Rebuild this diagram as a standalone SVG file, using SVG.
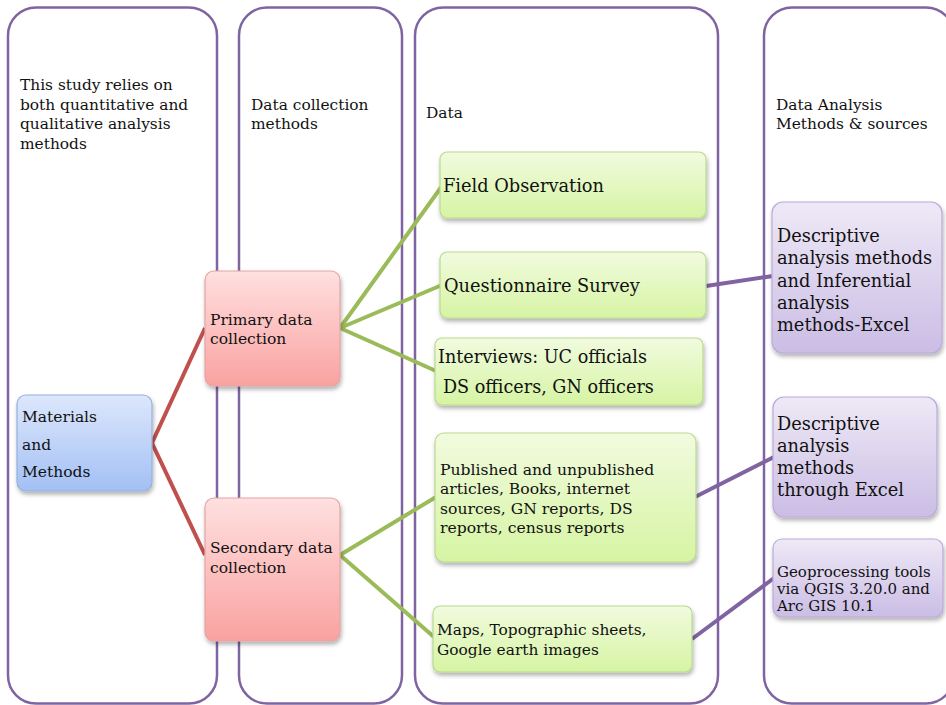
<svg xmlns="http://www.w3.org/2000/svg" width="946" height="705" viewBox="0 0 946 705">
<defs>
<linearGradient id="gBlue" x1="0" y1="0" x2="0" y2="1"><stop offset="0" stop-color="#DDE7FC"/><stop offset="1" stop-color="#A3C0F4"/></linearGradient>
<linearGradient id="gRed" x1="0" y1="0" x2="0" y2="1"><stop offset="0" stop-color="#FFE0E0"/><stop offset="1" stop-color="#F9A2A0"/></linearGradient>
<linearGradient id="gGreen" x1="0" y1="0" x2="0" y2="1"><stop offset="0" stop-color="#F1FBDF"/><stop offset="1" stop-color="#D6F4A3"/></linearGradient>
<linearGradient id="gPurple" x1="0" y1="0" x2="0" y2="1"><stop offset="0" stop-color="#EEE9F6"/><stop offset="1" stop-color="#CBBDE5"/></linearGradient>
<filter id="sh" x="-10%" y="-10%" width="125%" height="130%"><feDropShadow dx="1" dy="3" stdDeviation="2" flood-color="#000" flood-opacity="0.3"/></filter>
</defs>
<style>
.col{fill:none;stroke:#8064A2;stroke-width:2.5}
.t{font-family:"DejaVu Serif","Liberation Serif",serif;fill:#111}
.h{font-size:15.4px}
.blue{fill:url(#gBlue);stroke:#93B1DC;stroke-width:1.2}
.red{fill:url(#gRed);stroke:#E5A3A2;stroke-width:1.2}
.green{fill:url(#gGreen);stroke:#B9D98F;stroke-width:1.2}
.purple{fill:url(#gPurple);stroke:#BBAAD8;stroke-width:1.2}
.cr{stroke:#C0504D;stroke-width:4;fill:none}
.cg{stroke:#9BBB59;stroke-width:4;fill:none}
.cp{stroke:#8064A2;stroke-width:4;fill:none}
</style>
<rect width="946" height="705" fill="#fff"/>
<g id="columns">
<rect class="col" x="8" y="7.5" width="209" height="696" rx="28"/>
<rect class="col" x="239" y="7.5" width="163" height="696" rx="28"/>
<rect class="col" x="415" y="7.5" width="303" height="696" rx="28"/>
<rect class="col" x="764" y="7.5" width="190" height="696" rx="28"/>
</g>
<g id="headers">
<text class="t h" x="20" y="90">This study relies on</text>
<text class="t h" x="20" y="110">both quantitative and</text>
<text class="t h" x="20" y="129">qualitative analysis</text>
<text class="t h" x="20" y="149">methods</text>
<text class="t h" x="251" y="110">Data collection</text>
<text class="t h" x="251" y="129">methods</text>
<text class="t h" x="426" y="118">Data</text>
<text class="t h" x="776" y="110">Data Analysis</text>
<text class="t h" x="776" y="129">Methods &amp; sources</text>
</g>
<g id="connectors">
<polyline class="cr" points="205,328 152,443 205,555"/>
<line class="cg" x1="340" y1="328" x2="442" y2="186"/>
<line class="cg" x1="340" y1="328" x2="442" y2="285"/>
<line class="cg" x1="340" y1="328" x2="436" y2="371"/>
<line class="cg" x1="340" y1="555" x2="436" y2="497"/>
<line class="cg" x1="340" y1="555" x2="434" y2="637"/>
<line class="cp" x1="706" y1="286" x2="773" y2="276"/>
<line class="cp" x1="695" y1="497" x2="774" y2="457"/>
<line class="cp" x1="692" y1="639" x2="774" y2="578"/>
</g>
<g id="n-materials">
<rect class="blue" filter="url(#sh)" x="17" y="395" width="135" height="96" rx="9"/>
<text class="t" font-size="15.5" x="22" y="422">Materials</text>
<text class="t" font-size="15.5" x="22" y="450">and</text>
<text class="t" font-size="15.5" x="22" y="477">Methods</text>
</g>
<g id="n-primary">
<rect class="red" filter="url(#sh)" x="205" y="271" width="135" height="115" rx="9"/>
<text class="t" font-size="15.5" x="210" y="325">Primary data</text>
<text class="t" font-size="15.5" x="210" y="344">collection</text>
</g>
<g id="n-secondary">
<rect class="red" filter="url(#sh)" x="205" y="498" width="135" height="143" rx="9"/>
<text class="t" font-size="15.5" x="210" y="553">Secondary data</text>
<text class="t" font-size="15.5" x="210" y="573">collection</text>
</g>
<g id="n-field">
<rect class="green" filter="url(#sh)" x="440" y="152" width="266" height="66" rx="7"/>
<text class="t" font-size="17.8" x="443" y="192">Field Observation</text>
</g>
<g id="n-questionnaire">
<rect class="green" filter="url(#sh)" x="440" y="252" width="266" height="66" rx="7"/>
<text class="t" font-size="17.8" x="444" y="292">Questionnaire Survey</text>
</g>
<g id="n-interviews">
<rect class="green" filter="url(#sh)" x="435" y="338" width="268" height="67" rx="7"/>
<text class="t" font-size="17.6" x="438" y="363">Interviews: UC officials</text>
<text class="t" font-size="17.6" x="443" y="393">DS officers, GN officers</text>
</g>
<g id="n-published">
<rect class="green" filter="url(#sh)" x="435" y="433" width="261" height="129" rx="9"/>
<text class="t" font-size="15.6" x="440" y="475">Published and unpublished</text>
<text class="t" font-size="15.6" x="440" y="494">articles, Books, internet</text>
<text class="t" font-size="15.6" x="440" y="514">sources, GN reports, DS</text>
<text class="t" font-size="15.6" x="440" y="533">reports, census reports</text>
</g>
<g id="n-maps">
<rect class="green" filter="url(#sh)" x="433" y="606" width="259" height="66" rx="7"/>
<text class="t" font-size="15.4" x="437" y="635">Maps, Topographic sheets,</text>
<text class="t" font-size="15.4" x="437" y="655">Google earth images</text>
</g>
<g id="n-desc1">
<rect class="purple" filter="url(#sh)" x="772" y="202" width="170" height="151" rx="11"/>
<text class="t" font-size="17.8" x="777" y="242">Descriptive</text>
<text class="t" font-size="17.8" x="777" y="264">analysis methods</text>
<text class="t" font-size="17.8" x="777" y="287">and Inferential</text>
<text class="t" font-size="17.8" x="777" y="309">analysis</text>
<text class="t" font-size="17.8" x="777" y="331">methods-Excel</text>
</g>
<g id="n-desc2">
<rect class="purple" filter="url(#sh)" x="773" y="397" width="164" height="120" rx="11"/>
<text class="t" font-size="17.8" x="777" y="430">Descriptive</text>
<text class="t" font-size="17.8" x="777" y="452">analysis</text>
<text class="t" font-size="17.8" x="777" y="474">methods</text>
<text class="t" font-size="17.8" x="777" y="496">through Excel</text>
</g>
<g id="n-geo">
<rect class="purple" filter="url(#sh)" x="773" y="539" width="170" height="78" rx="9"/>
<text class="t" font-size="15" x="777" y="577">Geoprocessing tools</text>
<text class="t" font-size="15" x="777" y="594">via QGIS 3.20.0 and</text>
<text class="t" font-size="15" x="777" y="611">Arc GIS 10.1</text>
</g>
</svg>
